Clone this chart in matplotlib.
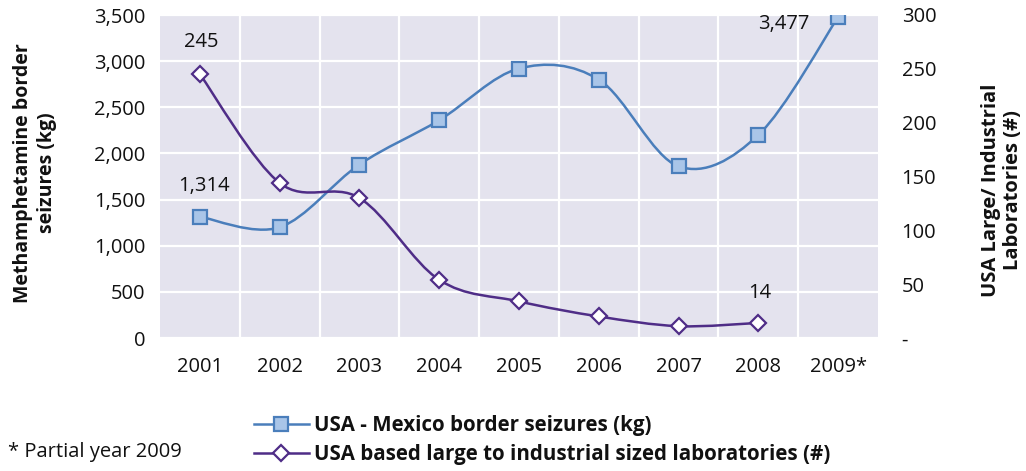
import matplotlib.pyplot as plt
from matplotlib.path import Path
from matplotlib.patches import PathPatch
from matplotlib.lines import Line2D
from matplotlib.ticker import FuncFormatter, MultipleLocator

plt.rcParams['font.family'] = ['Open Sans', 'DejaVu Sans']

years = ['2001', '2002', '2003', '2004', '2005', '2006', '2007', '2008', '2009*']
seizures_kg = [1314, 1200, 1880, 2360, 2920, 2800, 1860, 2200, 3477]
labs_count = [245, 144, 130, 54, 34, 20, 11, 14]

BLUE = '#4a7ebb'
BLUE_FACE = '#a9c5e8'
PURPLE = '#4f2d87'
BG = '#e4e3ee'
TXT = '#111111'


def smooth_path(xs, ys):
    # Catmull-Rom style cubic Bezier through every point
    pts = list(zip(xs, ys))
    verts = [pts[0]]
    codes = [Path.MOVETO]
    n = len(pts)
    for i in range(n - 1):
        p0 = pts[i - 1] if i > 0 else pts[i]
        p1 = pts[i]
        p2 = pts[i + 1]
        p3 = pts[i + 2] if i + 2 < n else pts[i + 1]
        c1 = (p1[0] + (p2[0] - p0[0]) / 6, p1[1] + (p2[1] - p0[1]) / 6)
        c2 = (p2[0] - (p3[0] - p1[0]) / 6, p2[1] - (p3[1] - p1[1]) / 6)
        verts += [c1, c2, p2]
        codes += [Path.CURVE4] * 3
    return Path(verts, codes)


fig = plt.figure(figsize=(10.26, 4.71), dpi=100)
ax = fig.add_axes([160 / 1026, 133 / 471, 718 / 1026, 323 / 471])
ax2 = ax.twinx()

ax.set_facecolor(BG)
for a in (ax, ax2):
    for s in a.spines.values():
        s.set_visible(False)

x1 = list(range(len(seizures_kg)))
x2 = list(range(len(labs_count)))

ax.set_xlim(-0.5, len(years) - 0.5)
ax.set_ylim(0, 3500)
ax2.set_ylim(0, 300)

ax.set_xticks(x1)
ax.set_xticklabels(years)
ax.set_xticks([i + 0.5 for i in range(len(years) - 1)], minor=True)
ax.yaxis.set_major_locator(MultipleLocator(500))
ax.yaxis.set_major_formatter(FuncFormatter(lambda v, p: f'{int(v):,}'))
ax2.yaxis.set_major_locator(MultipleLocator(50))
ax2.yaxis.set_major_formatter(FuncFormatter(lambda v, p: '-' if v == 0 else f'{int(v)}'))

ax.grid(True, axis='y', which='major', color='white', lw=1.6)
ax.grid(True, axis='x', which='minor', color='white', lw=1.6)
ax.set_axisbelow(True)

ax.tick_params(axis='both', which='both', length=0, labelsize=14.5, colors=TXT)
ax.tick_params(axis='x', pad=14)
ax.tick_params(axis='y', pad=10.5)
ax2.tick_params(axis='y', length=0, labelsize=14.5, colors=TXT, pad=17)

# smoothed lines
ax.add_patch(PathPatch(smooth_path(x1, seizures_kg), fill=False, edgecolor=BLUE, lw=1.8, zorder=3))
ax2.add_patch(PathPatch(smooth_path(x2, labs_count), fill=False, edgecolor=PURPLE, lw=1.8, zorder=3))

ax.plot(x1, seizures_kg, ls='none', marker='s', ms=10.5, mfc=BLUE_FACE, mec=BLUE, mew=1.6, zorder=4)
ax2.plot(x2, labs_count, ls='none', marker='D', ms=8, mfc='white', mec=PURPLE, mew=1.6, zorder=4)

# value labels
lbl = dict(textcoords='offset points', ha='center', va='center', fontsize=14.5, color=TXT)
ax.annotate(f'{seizures_kg[0]:,}', (x1[0], seizures_kg[0]), xytext=(3, 22), **lbl)
ax.annotate(f'{seizures_kg[-1]:,}', (x1[-1], seizures_kg[-1]), xytext=(-39, -5), **lbl)
ax2.annotate(f'{labs_count[0]}', (x2[0], labs_count[0]), xytext=(1, 23), **lbl)
ax2.annotate(f'{labs_count[-1]}', (x2[-1], labs_count[-1]), xytext=(1, 21.5), **lbl)

# axis titles
fig.text(35 / 1026, 1 - 173 / 471, 'Methamphetamine border\nseizures (kg)', rotation=90,
         ha='center', va='center', multialignment='center', fontsize=14, fontweight='bold',
         linespacing=1.25, color=TXT)
fig.text(1002 / 1026, 1 - 190 / 471, 'USA Large/ Industrial\nLaboratories (#)', rotation=90,
         ha='center', va='center', multialignment='center', fontsize=14.5, fontweight='bold',
         linespacing=1.15, color=TXT)

handles = [
    Line2D([], [], color=BLUE, lw=1.8, marker='s', ms=10, mfc=BLUE_FACE, mec=BLUE, mew=1.6),
    Line2D([], [], color=PURPLE, lw=1.8, marker='D', ms=8, mfc='white', mec=PURPLE, mew=1.6),
]
fig.legend(handles, ['USA - Mexico border seizures (kg)', 'USA based large to industrial sized laboratories (#)'],
           loc='upper left', bbox_to_anchor=(235 / 1026, 1 - 397 / 471), frameon=False,
           prop={'weight': 'bold', 'size': 14.8}, handlelength=2.7, handletextpad=0.25,
           labelspacing=0.35, labelcolor=TXT)

fig.text(8 / 1026, 1 - 452 / 471, '* Partial year 2009', fontsize=14.5, va='center', ha='left', color=TXT)

fig.savefig('out.png', dpi=100)
